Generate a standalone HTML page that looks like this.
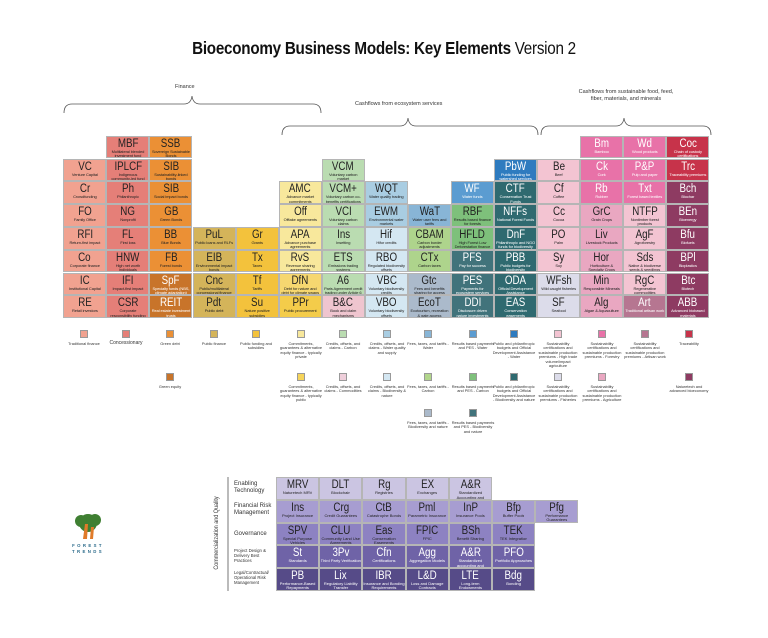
<!DOCTYPE html>
<html><head><meta charset="utf-8">
<style>
*{margin:0;padding:0;box-sizing:border-box}
body{width:768px;height:638px;background:#fff;position:relative;overflow:hidden;font-family:"Liberation Sans",sans-serif;color:#222}
.k{position:absolute;width:43.1px;height:22.8px;border:0.6px solid #b5b5b5;display:flex;flex-direction:column;align-items:center;justify-content:flex-start;padding-top:2px;text-align:center;overflow:hidden}
.k b{font-weight:normal;font-size:11.5px;line-height:11px;display:inline-block;transform:scaleX(.85);white-space:nowrap}
.k i{font-style:normal;font-size:4px;line-height:4.3px;padding:0 1px;max-height:8.8px;overflow:hidden;letter-spacing:-0.1px}
.w{color:#fff}
.c0{left:63.3px}.c1{left:106.4px}.c2{left:149.4px}.c3{left:192.5px}.c4{left:235.6px}.c5{left:278.7px}.c6{left:321.7px}.c7{left:364.8px}.c8{left:407.9px}.c9{left:450.9px}.c10{left:494px}.c11{left:537.1px}.c12{left:580.1px}.c13{left:623.2px}.c14{left:666.3px}
.r0{top:135.7px}.r1{top:158.5px}.r2{top:181.3px}.r3{top:204.1px}.r4{top:226.9px}.r5{top:249.7px}.r6{top:272.5px}.r7{top:295.3px}
.q{position:absolute;width:43.2px;height:22.7px;border:0.6px solid #b5b5b5;display:flex;flex-direction:column;align-items:center;justify-content:flex-start;padding-top:2px;text-align:center;overflow:hidden}
.q b{font-weight:normal;font-size:11.5px;line-height:11px;display:inline-block;transform:scaleX(.85);white-space:nowrap}
.q i{font-style:normal;font-size:4px;line-height:4.3px;max-height:8.8px;overflow:hidden}
.d0{left:276px}.d1{left:319.2px}.d2{left:362.4px}.d3{left:405.6px}.d4{left:448.8px}.d5{left:492px}.d6{left:535.2px}
.e0{top:477.3px;background:#cbc5e2}.e1{top:500px;background:#a79dd1}.e2{top:522.7px;background:#8d82c2}.e3{top:545.4px;background:#6f63a7;color:#fff}.e4{top:568.1px;background:#564b88;color:#fff}
.s{position:absolute;width:8px;height:8px;border:0.7px solid #999}
.l{position:absolute;width:44px;font-size:3.9px;line-height:4.4px;text-align:center;color:#333}
.bl{position:absolute;left:234px;font-size:6px;line-height:6.6px;color:#333;width:42px}
.bl.sm{font-size:4.3px;line-height:4.8px}
</style></head><body>
<div style="position:absolute;left:0;width:768px;top:38px;text-align:center;font-size:17.5px;font-weight:bold;letter-spacing:-0.3px;color:#111;transform:scaleX(.87)">Bioeconomy Business Models: Key Elements <span style="font-weight:normal">Version 2</span></div>
<div style="position:absolute;left:175px;top:84px;font-size:5.5px;color:#333">Finance</div>
<div style="position:absolute;left:355px;top:101px;font-size:5.5px;color:#333">Cashflows from ecosystem services</div>
<div style="position:absolute;left:560px;top:89px;width:132px;text-align:center;font-size:5.5px;line-height:7px;color:#333">Cashflows from sustainable food, feed,<br>fiber, materials, and minerals</div>
<svg style="position:absolute;left:0;top:0" width="768" height="638">
<g fill="none" stroke="#555" stroke-width="0.8">
<path d="M64,113 Q64,104 72,104 L184,104 Q191,104 192,96 Q193,104 200,104 L313,104 Q321,104 321,113"/>
<path d="M282,135 Q282,126 290,126 L400,126 Q407,126 408,118 Q409,126 416,126 L530,126 Q538,126 538,135"/>
<path d="M541,135 Q541,126 549,126 L616,126 Q623,126 624,118 Q625,126 632,126 L703,126 Q711,126 711,135"/>
<line x1="228" y1="477" x2="228" y2="591"/>
</g>
<circle cx="88" cy="523" r="9" fill="#3f7f32"/><circle cx="81" cy="521" r="6" fill="#3f7f32"/><circle cx="95" cy="520" r="6" fill="#3f7f32"/>
<path d="M83,539 L85,524 L88,524 L87,539 Z M90,539 L91,527 L94,527 L93,539Z" fill="#e07b2a"/>
</svg>
<div style="position:absolute;left:68px;top:543px;font-size:4.3px;font-weight:bold;letter-spacing:2.4px;color:#2a6a8a;line-height:5.5px;text-align:center;width:40px">FOREST<br>TRENDS</div>
<div style="position:absolute;left:157px;top:530px;width:120px;transform:rotate(-90deg) scaleX(.9);font-size:6px;color:#333;text-align:center">Commercialization and Quality</div>

<div class="k c0 r1" style="background:#f1a290"><b>VC</b><i>Venture Capital</i></div>
<div class="k c0 r2" style="background:#f1a290"><b>Cr</b><i>Crowdfunding</i></div>
<div class="k c0 r3" style="background:#f1a290"><b>FO</b><i>Family Office</i></div>
<div class="k c0 r4" style="background:#f1a290"><b>RFI</b><i>Return-first impact</i></div>
<div class="k c0 r5" style="background:#f1a290"><b>Co</b><i>Corporate finance</i></div>
<div class="k c0 r6" style="background:#f1a290"><b>IC</b><i>Institutional Capital</i></div>
<div class="k c0 r7" style="background:#f1a290"><b>RE</b><i>Retail investors</i></div>
<div class="k c1 r0" style="background:#e57f78"><b>MBF</b><i>Multilateral blended investment fund</i></div>
<div class="k c1 r1" style="background:#e57f78"><b>IPLCF</b><i>Indigenous community-led fund</i></div>
<div class="k c1 r2" style="background:#e57f78"><b>Ph</b><i>Philanthropic</i></div>
<div class="k c1 r3" style="background:#e57f78"><b>NG</b><i>Nonprofit</i></div>
<div class="k c1 r4" style="background:#e57f78"><b>FL</b><i>First loss</i></div>
<div class="k c1 r5" style="background:#e57f78"><b>HNW</b><i>High net worth individuals</i></div>
<div class="k c1 r6" style="background:#e57f78"><b>IFI</b><i>Impact-first impact</i></div>
<div class="k c1 r7" style="background:#e57f78"><b>CSR</b><i>Corporate responsibility funding</i></div>
<div class="k c2 r0" style="background:#eb9035"><b>SSB</b><i>Sovereign Sustainable Bonds</i></div>
<div class="k c2 r1" style="background:#eb9035"><b>SIB</b><i>Sustainability-linked bonds</i></div>
<div class="k c2 r2" style="background:#eb9035"><b>SIB</b><i>Social impact bonds</i></div>
<div class="k c2 r3" style="background:#eb9035"><b>GB</b><i>Green Bonds</i></div>
<div class="k c2 r4" style="background:#eb9035"><b>BB</b><i>Blue Bonds</i></div>
<div class="k c2 r5" style="background:#eb9035"><b>FB</b><i>Forest bonds</i></div>
<div class="k c2 r6 w" style="background:#c8742a"><b>SpF</b><i>Specialty funds (NBS, climate adaptation)</i></div>
<div class="k c2 r7 w" style="background:#c8742a"><b>REIT</b><i>Real estate investment trusts</i></div>
<div class="k c3 r4" style="background:#d4b45a"><b>PuL</b><i>Public loans and RLFs</i></div>
<div class="k c3 r5" style="background:#d4b45a"><b>EIB</b><i>Environmental impact bonds</i></div>
<div class="k c3 r6" style="background:#d4b45a"><b>Cnc</b><i>Public/multilateral concessional finance</i></div>
<div class="k c3 r7" style="background:#d4b45a"><b>Pdt</b><i>Public debt</i></div>
<div class="k c4 r4" style="background:#f3c23c"><b>Gr</b><i>Grants</i></div>
<div class="k c4 r5" style="background:#f3c23c"><b>Tx</b><i>Taxes</i></div>
<div class="k c4 r6" style="background:#f3c23c"><b>Tf</b><i>Tariffs</i></div>
<div class="k c4 r7" style="background:#f3c23c"><b>Su</b><i>Nature positive subsidies</i></div>
<div class="k c5 r2" style="background:#f8e89c"><b>AMC</b><i>Advance market commitments</i></div>
<div class="k c5 r3" style="background:#f8e89c"><b>Off</b><i>Offtake agreements</i></div>
<div class="k c5 r4" style="background:#f8e89c"><b>APA</b><i>Advance purchase agreements</i></div>
<div class="k c5 r5" style="background:#f8e89c"><b>RvS</b><i>Revenue sharing agreements</i></div>
<div class="k c5 r6" style="background:#f6d770"><b>DfN</b><i>Debt for nature and debt for climate swaps</i></div>
<div class="k c5 r7" style="background:#f4cc4a"><b>PPr</b><i>Public procurement</i></div>
<div class="k c6 r1" style="background:#badcb1"><b>VCM</b><i>Voluntary carbon market</i></div>
<div class="k c6 r2" style="background:#badcb1"><b>VCM+</b><i>Voluntary carbon co-benefits certifications</i></div>
<div class="k c6 r3" style="background:#badcb1"><b>VCI</b><i>Voluntary carbon claims</i></div>
<div class="k c6 r4" style="background:#badcb1"><b>Ins</b><i>Insetting</i></div>
<div class="k c6 r5" style="background:#badcb1"><b>ETS</b><i>Emissions trading systems</i></div>
<div class="k c6 r6" style="background:#badcb1"><b>A6</b><i>Paris Agreement credit trading under Article 6</i></div>
<div class="k c6 r7" style="background:#efc5cf"><b>B&amp;C</b><i>Book and claim mechanisms</i></div>
<div class="k c7 r2" style="background:#a9cde2"><b>WQT</b><i>Water quality trading</i></div>
<div class="k c7 r3" style="background:#a9cde2"><b>EWM</b><i>Environmental water markets</i></div>
<div class="k c7 r4" style="background:#d4e7f2"><b>Hif</b><i>Hifor credits</i></div>
<div class="k c7 r5" style="background:#d4e7f2"><b>RBO</b><i>Regulated biodiversity offsets</i></div>
<div class="k c7 r6" style="background:#d4e7f2"><b>VBC</b><i>Voluntary biodiversity credits</i></div>
<div class="k c7 r7" style="background:#d4e7f2"><b>VBO</b><i>Voluntary biodiversity offsets</i></div>
<div class="k c8 r3" style="background:#88b5d6"><b>WaT</b><i>Water user fees and tariffs</i></div>
<div class="k c8 r4" style="background:#aed48c"><b>CBAM</b><i>Carbon border adjustments</i></div>
<div class="k c8 r5" style="background:#aed48c"><b>CTx</b><i>Carbon taxes</i></div>
<div class="k c8 r6" style="background:#abbacb"><b>Gtc</b><i>Fees and benefits sharing for access</i></div>
<div class="k c8 r7" style="background:#abbacb"><b>EcoT</b><i>Ecotourism, recreation &amp; gate access</i></div>
<div class="k c9 r2 w" style="background:#5b9cd1"><b>WF</b><i>Water funds</i></div>
<div class="k c9 r3" style="background:#7ec07b"><b>RBF</b><i>Results based finance for forests</i></div>
<div class="k c9 r4" style="background:#7ec07b"><b>HFLD</b><i>High Forest Low Deforestation finance</i></div>
<div class="k c9 r5 w" style="background:#41737b"><b>PFS</b><i>Pay for success</i></div>
<div class="k c9 r6 w" style="background:#41737b"><b>PES</b><i>Payments for ecosystem services</i></div>
<div class="k c9 r7 w" style="background:#41737b"><b>DDI</b><i>Disclosure driven nature investments</i></div>
<div class="k c10 r1 w" style="background:#2e7bbf"><b>PbW</b><i>Public funding for watershed services</i></div>
<div class="k c10 r2 w" style="background:#2f6a70"><b>CTF</b><i>Conservation Trust Funds</i></div>
<div class="k c10 r3 w" style="background:#2f6a70"><b>NFFs</b><i>National Forest Funds</i></div>
<div class="k c10 r4 w" style="background:#2f6a70"><b>DnF</b><i>Philanthropic and NGO funds for biodiversity</i></div>
<div class="k c10 r5 w" style="background:#2f6a70"><b>PBB</b><i>Public budgets for biodiversity</i></div>
<div class="k c10 r6 w" style="background:#2f6a70"><b>ODA</b><i>Official Development Assistance</i></div>
<div class="k c10 r7 w" style="background:#2f6a70"><b>EAS</b><i>Conservation easements</i></div>
<div class="k c11 r1" style="background:#f3c4d2"><b>Be</b><i>Beef</i></div>
<div class="k c11 r2" style="background:#f3c4d2"><b>Cf</b><i>Coffee</i></div>
<div class="k c11 r3" style="background:#f3c4d2"><b>Cc</b><i>Cocoa</i></div>
<div class="k c11 r4" style="background:#f3c4d2"><b>PO</b><i>Palm</i></div>
<div class="k c11 r5" style="background:#f3c4d2"><b>Sy</b><i>Soy</i></div>
<div class="k c11 r6" style="background:#dcdcea"><b>WFsh</b><i>Wild caught fisheries</i></div>
<div class="k c11 r7" style="background:#dcdcea"><b>SF</b><i>Seafood</i></div>
<div class="k c12 r0 w" style="background:#e872a8"><b>Bm</b><i>Bamboo</i></div>
<div class="k c12 r1 w" style="background:#e872a8"><b>Ck</b><i>Cork</i></div>
<div class="k c12 r2 w" style="background:#e872a8"><b>Rb</b><i>Rubber</i></div>
<div class="k c12 r3" style="background:#e9a7c1"><b>GrC</b><i>Grain Crops</i></div>
<div class="k c12 r4" style="background:#e9a7c1"><b>Liv</b><i>Livestock Products</i></div>
<div class="k c12 r5" style="background:#e9a7c1"><b>Hor</b><i>Horticulture &amp; Specialty Crops</i></div>
<div class="k c12 r6" style="background:#e9a7c1"><b>Min</b><i>Responsible Minerals</i></div>
<div class="k c12 r7" style="background:#e9a7c1"><b>Alg</b><i>Algae &amp; Aquaculture</i></div>
<div class="k c13 r0 w" style="background:#e872a8"><b>Wd</b><i>Wood products</i></div>
<div class="k c13 r1 w" style="background:#e872a8"><b>P&amp;P</b><i>Pulp and paper</i></div>
<div class="k c13 r2 w" style="background:#e872a8"><b>Txt</b><i>Forest based textiles</i></div>
<div class="k c13 r3" style="background:#f3c4d2"><b>NTFP</b><i>Nontimber forest products</i></div>
<div class="k c13 r4" style="background:#f3c4d2"><b>AgF</b><i>Agroforestry</i></div>
<div class="k c13 r5" style="background:#f3c4d2"><b>Sds</b><i>Native &amp; biodiverse seeds &amp; seedlings</i></div>
<div class="k c13 r6" style="background:#f3c4d2"><b>RgC</b><i>Regenerative commodities</i></div>
<div class="k c13 r7 w" style="background:#b67691"><b>Art</b><i>Traditional artisan work</i></div>
<div class="k c14 r0 w" style="background:#c7334a"><b>Coc</b><i>Chain of custody certifications</i></div>
<div class="k c14 r1 w" style="background:#c7334a"><b>Trc</b><i>Traceability premiums</i></div>
<div class="k c14 r2 w" style="background:#8e3b62"><b>Bch</b><i>Biochar</i></div>
<div class="k c14 r3 w" style="background:#8e3b62"><b>BEn</b><i>Bioenergy</i></div>
<div class="k c14 r4 w" style="background:#8e3b62"><b>Bfu</b><i>Biofuels</i></div>
<div class="k c14 r5 w" style="background:#8e3b62"><b>BPl</b><i>Bioplastics</i></div>
<div class="k c14 r6 w" style="background:#8e3b62"><b>Btc</b><i>Biotech</i></div>
<div class="k c14 r7 w" style="background:#8e3b62"><b>ABB</b><i>Advanced biobased materials</i></div>

<div class="s" style="left:80px;top:330px;background:#f1a290"></div><div class="l" style="left:62px;top:342px">Traditional finance</div>
<div class="s" style="left:122px;top:330px;background:#e57f78"></div><div class="l" style="left:104px;top:341px;font-size:5px">Concessionary</div>
<div class="s" style="left:166px;top:330px;background:#eb9035"></div><div class="l" style="left:148px;top:342px">Green debt</div>
<div class="s" style="left:210px;top:330px;background:#d4b45a"></div><div class="l" style="left:192px;top:342px">Public finance</div>
<div class="s" style="left:252px;top:330px;background:#f3c23c"></div><div class="l" style="left:234px;top:342px">Public funding and subsidies</div>
<div class="s" style="left:297px;top:330px;background:#f8e89c"></div><div class="l" style="left:279px;top:342px">Commitments, guarantees &amp; alternative equity finance - typically private</div>
<div class="s" style="left:339px;top:330px;background:#badcb1"></div><div class="l" style="left:321px;top:342px">Credits, offsets, and claims - Carbon</div>
<div class="s" style="left:383px;top:330px;background:#a9cde2"></div><div class="l" style="left:365px;top:342px">Credits, offsets, and claims - Water quality and supply</div>
<div class="s" style="left:424px;top:330px;background:#88b5d6"></div><div class="l" style="left:406px;top:342px">Fees, taxes, and tariffs - Water</div>
<div class="s" style="left:469px;top:330px;background:#5b9cd1"></div><div class="l" style="left:451px;top:342px">Results based payments and PES - Water</div>
<div class="s" style="left:510px;top:330px;background:#2e7bbf"></div><div class="l" style="left:492px;top:342px">Public and philanthropic budgets and Official Development Assistance - Water</div>
<div class="s" style="left:554px;top:330px;background:#f3c4d2"></div><div class="l" style="left:536px;top:342px">Sustainability certifications and sustainable production premiums - High trade volume/impact agriculture</div>
<div class="s" style="left:598px;top:330px;background:#e872a8"></div><div class="l" style="left:580px;top:342px">Sustainability certifications and sustainable production premiums - Forestry</div>
<div class="s" style="left:641px;top:330px;background:#b67691"></div><div class="l" style="left:623px;top:342px">Sustainability certifications and sustainable production premiums - Artisan work</div>
<div class="s" style="left:685px;top:330px;background:#c7334a"></div><div class="l" style="left:667px;top:342px">Traceability</div>
<div class="s" style="left:166px;top:373px;background:#c8742a"></div><div class="l" style="left:148px;top:385px">Green equity</div>
<div class="s" style="left:297px;top:373px;background:#f6d45a"></div><div class="l" style="left:279px;top:385px">Commitments, guarantees &amp; alternative equity finance - typically public</div>
<div class="s" style="left:339px;top:373px;background:#efcfdb"></div><div class="l" style="left:321px;top:385px">Credits, offsets, and claims - Commodities</div>
<div class="s" style="left:383px;top:373px;background:#d4e7f2"></div><div class="l" style="left:365px;top:385px">Credits, offsets, and claims - Biodiversity &amp; nature</div>
<div class="s" style="left:424px;top:373px;background:#b2d68c"></div><div class="l" style="left:406px;top:385px">Fees, taxes, and tariffs - Carbon</div>
<div class="s" style="left:469px;top:373px;background:#7ec07b"></div><div class="l" style="left:451px;top:385px">Results based payments and PES - Carbon</div>
<div class="s" style="left:510px;top:373px;background:#2f6a70"></div><div class="l" style="left:492px;top:385px">Public and philanthropic budgets and Official Development Assistance - Biodiversity and nature</div>
<div class="s" style="left:554px;top:373px;background:#dcdcea"></div><div class="l" style="left:536px;top:385px">Sustainability certifications and sustainable production premiums - Fisheries</div>
<div class="s" style="left:598px;top:373px;background:#e9a7c1"></div><div class="l" style="left:580px;top:385px">Sustainability certifications and sustainable production premiums - Agriculture</div>
<div class="s" style="left:685px;top:373px;background:#8e3b62"></div><div class="l" style="left:667px;top:385px">Naturetech and advanced bioeconomy</div>
<div class="s" style="left:424px;top:409px;background:#abbacb"></div><div class="l" style="left:406px;top:421px">Fees, taxes, and tariffs - Biodiversity and nature</div>
<div class="s" style="left:469px;top:409px;background:#41737b"></div><div class="l" style="left:451px;top:421px">Results based payments and PES - Biodiversity and nature</div>

<div class="bl" style="top:481px">Enabling<br>Technology</div>
<div class="bl" style="top:503px">Financial Risk<br>Management</div>
<div class="bl" style="top:531px">Governance</div>
<div class="bl sm" style="top:549px">Project Design &amp;<br>Delivery Best<br>Practices</div>
<div class="bl sm" style="top:571px">Legal/Contractual/<br>Operational Risk<br>Management</div>

<div class="q d0 e0"><b>MRV</b><i>Naturetech MRV</i></div>
<div class="q d1 e0"><b>DLT</b><i>Blockchain</i></div>
<div class="q d2 e0"><b>Rg</b><i>Registries</i></div>
<div class="q d3 e0"><b>EX</b><i>Exchanges</i></div>
<div class="q d4 e0"><b>A&amp;R</b><i>Standardized Accounting and Reporting</i></div>
<div class="q d0 e1"><b>Ins</b><i>Project Insurance</i></div>
<div class="q d1 e1"><b>Crg</b><i>Credit Guarantees</i></div>
<div class="q d2 e1"><b>CtB</b><i>Catastrophe Bonds</i></div>
<div class="q d3 e1"><b>Pml</b><i>Parametric Insurance</i></div>
<div class="q d4 e1"><b>InP</b><i>Insurance Pools</i></div>
<div class="q d5 e1"><b>Bfp</b><i>Buffer Pools</i></div>
<div class="q d6 e1"><b>Pfg</b><i>Performance Guarantees</i></div>
<div class="q d0 e2"><b>SPV</b><i>Special Purpose Vehicles</i></div>
<div class="q d1 e2"><b>CLU</b><i>Community Land Use Agreements</i></div>
<div class="q d2 e2"><b>Eas</b><i>Conservation Easements</i></div>
<div class="q d3 e2"><b>FPIC</b><i>FPIC</i></div>
<div class="q d4 e2"><b>BSh</b><i>Benefit Sharing</i></div>
<div class="q d5 e2"><b>TEK</b><i>TEK Integration</i></div>
<div class="q d0 e3"><b>St</b><i>Standards</i></div>
<div class="q d1 e3"><b>3Pv</b><i>Third Party Verification</i></div>
<div class="q d2 e3"><b>Cfn</b><i>Certifications</i></div>
<div class="q d3 e3"><b>Agg</b><i>Aggregation Models</i></div>
<div class="q d4 e3"><b>A&amp;R</b><i>Standardized accounting and reporting</i></div>
<div class="q d5 e3"><b>PFO</b><i>Portfolio Approaches</i></div>
<div class="q d0 e4"><b>PB</b><i>Performance-Based Repayments</i></div>
<div class="q d1 e4"><b>Lix</b><i>Regulatory Liability Transfer</i></div>
<div class="q d2 e4"><b>IBR</b><i>Insurance and Bonding Requirements</i></div>
<div class="q d3 e4"><b>L&amp;D</b><i>Loss and Damage Contracts</i></div>
<div class="q d4 e4"><b>LTE</b><i>Long-term Endowments</i></div>
<div class="q d5 e4"><b>Bdg</b><i>Bonding</i></div>
</body></html>
